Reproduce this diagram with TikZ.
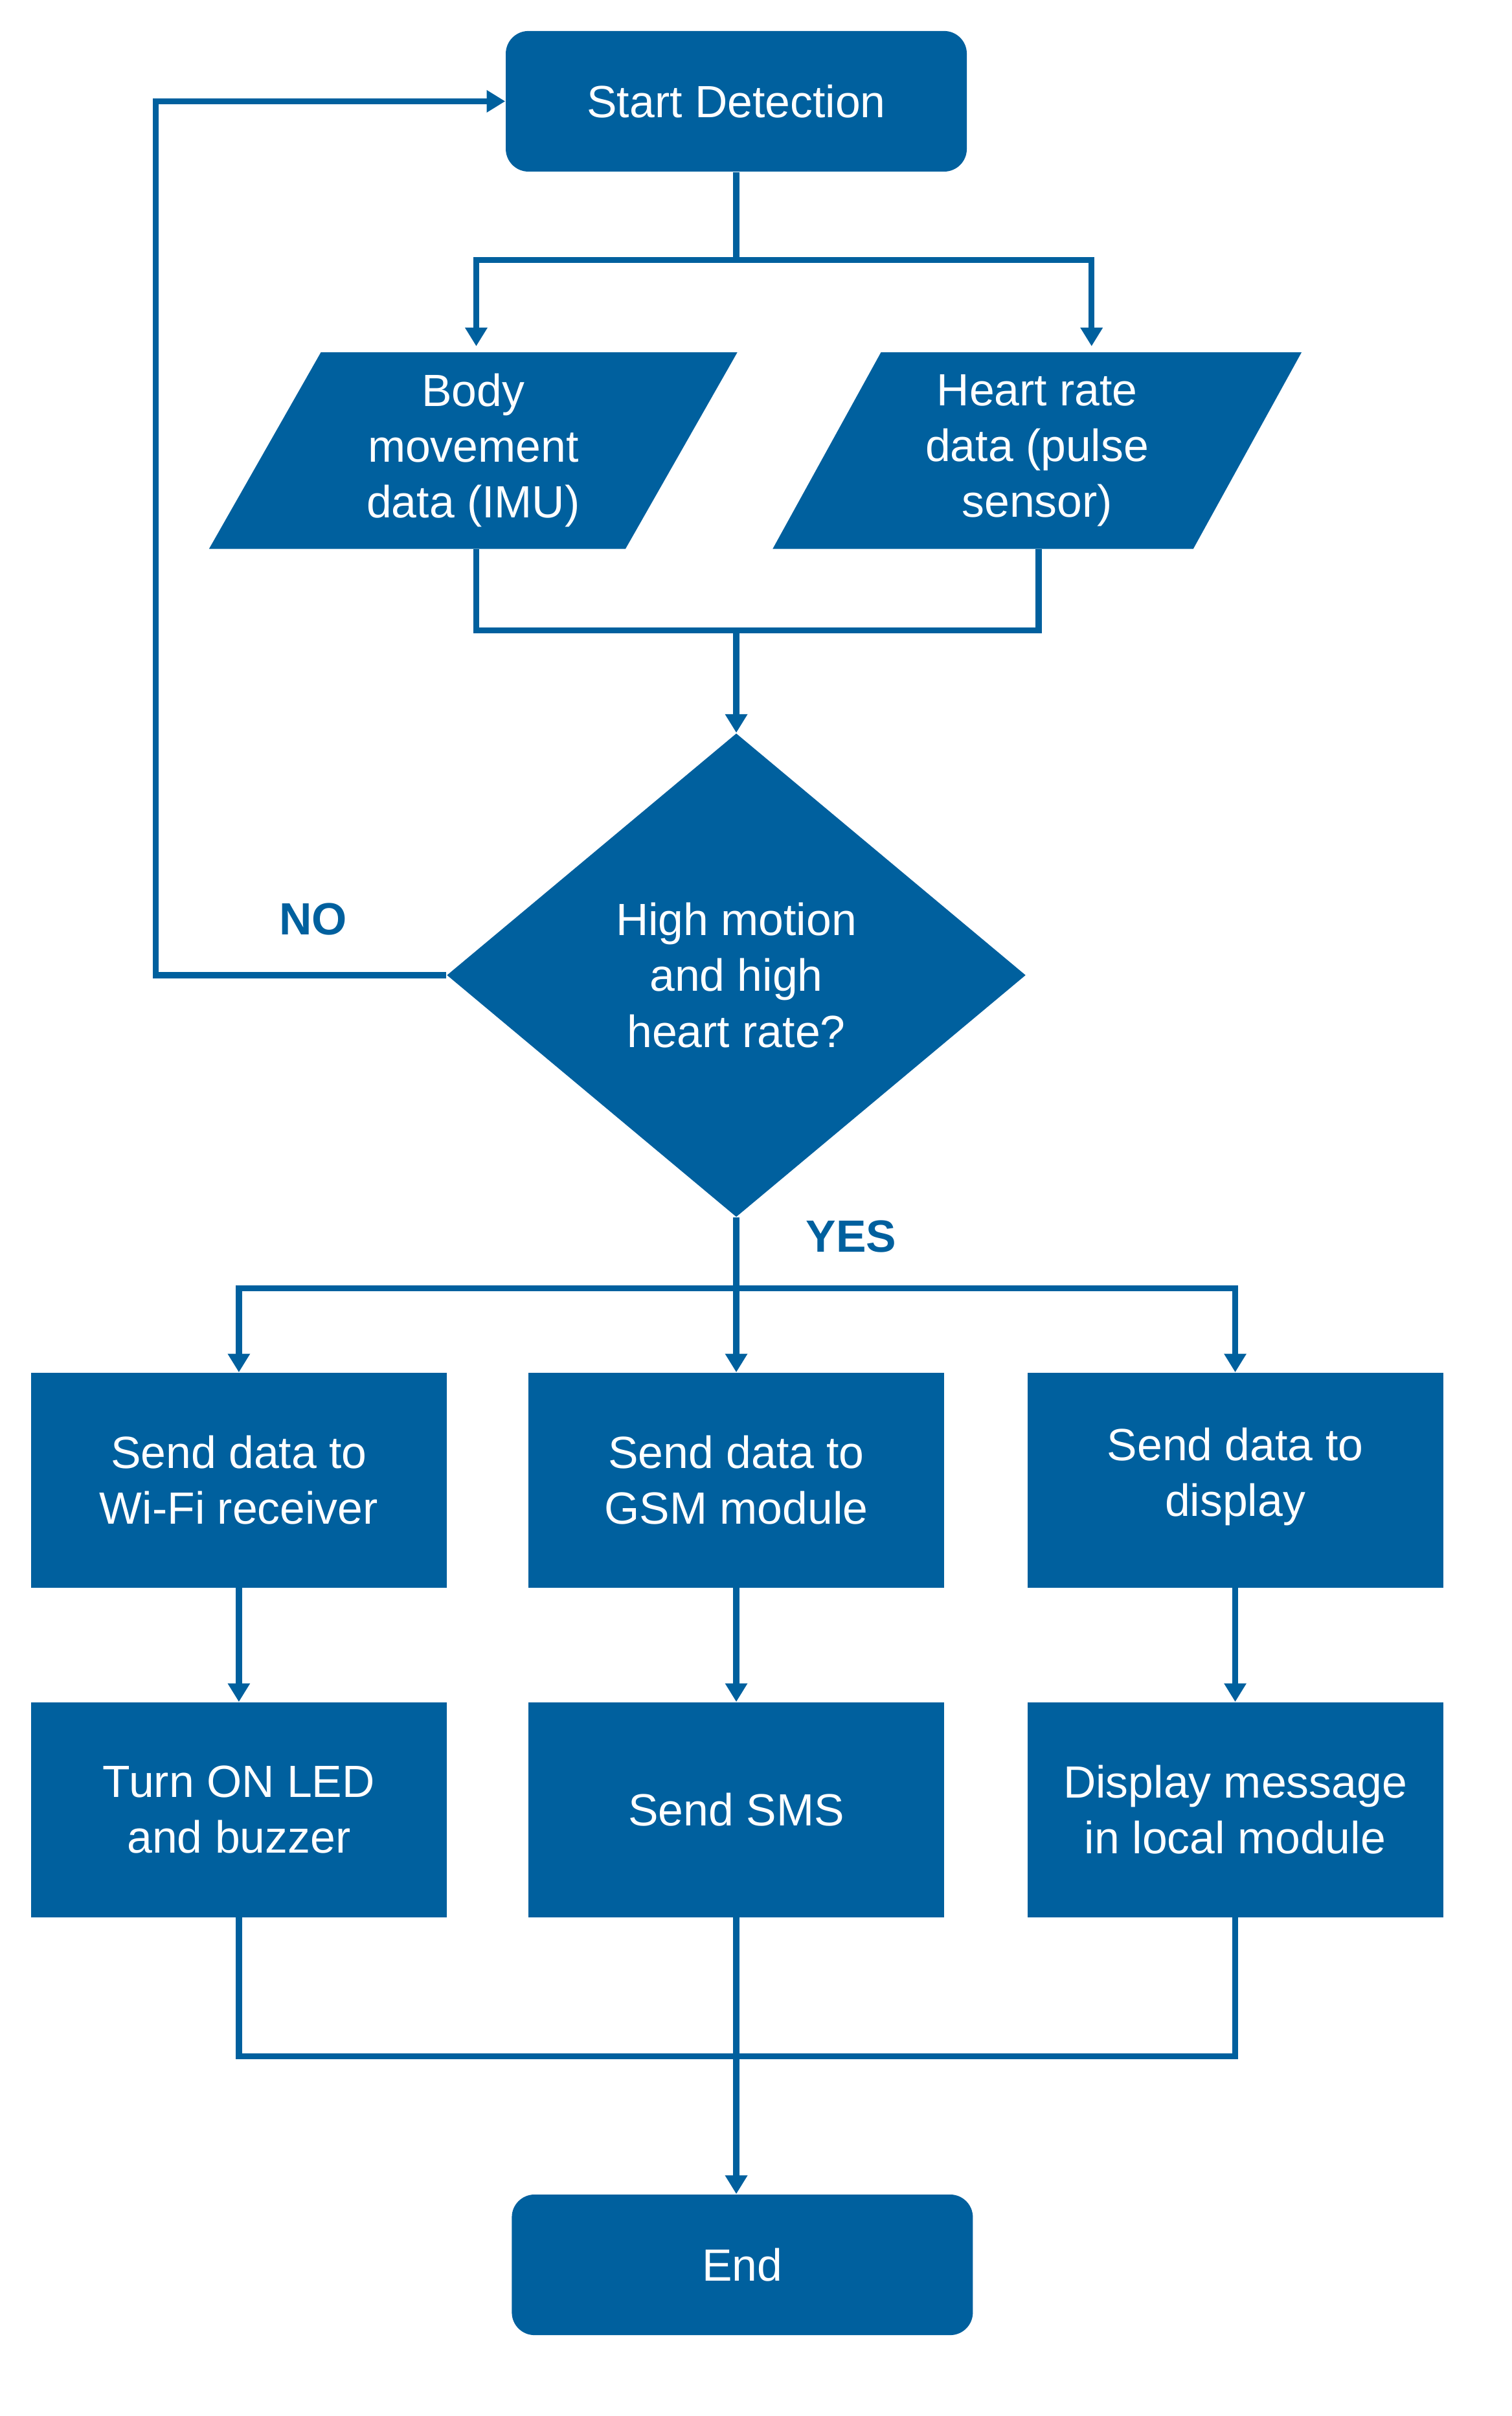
\documentclass[tikz,border=0pt]{standalone}
\usepackage{fontspec}
\setmainfont{Liberation Sans}
\usetikzlibrary{shapes.geometric,arrows.meta}
\definecolor{fb}{RGB}{0,96,158}
\begin{document}
\begin{tikzpicture}[x=0.02cm,y=-0.02cm,
  base/.style={fill=fb,text=white,font=\fontsize{17}{21}\selectfont,align=center,inner sep=0pt},
  term/.style={base,rounded corners=0.3cm,minimum width=6.1cm,minimum height=1.86cm},
  box/.style={base,minimum width=5.5cm,minimum height=2.84cm},
  para/.style={base,trapezium,trapezium left angle=63,trapezium right angle=117,trapezium stretches=true,minimum width=7cm,minimum height=2.6cm},
  dec/.style={base,diamond,minimum width=7.66cm,minimum height=6.4cm,aspect=1.2},
  ln/.style={draw=fb,line width=2.3pt},
  ar/.style={ln,-{Triangle[length=7pt,width=8pt]}},
  lab/.style={text=fb,font=\bfseries\fontsize{17}{21}\selectfont}]
\useasboundingbox (0,0) rectangle (1000,1598);
\node[term] (start) at (487,67) {Start Detection};
\node[para] (body) at (313,298) {Body\\movement\\data (IMU)};
\node[para] (heart) at (686,298) {Heart rate\\data (pulse\\sensor)};
\node[dec] (dec) at (487,645) {High motion\\and high\\heart rate?};
\node[box] (b1) at (158,979) {Send data to\\Wi-Fi receiver};
\node[box] (b2) at (487,979) {Send data to\\GSM module};
\node[box] (b3) at (817,979) {Send data to\\display\strut};
\node[box] (c1) at (158,1197) {Turn ON LED\\and buzzer};
\node[box] (c2) at (487,1197) {Send SMS};
\node[box] (c3) at (817,1197) {Display message\\in local module};
\node[term] (end) at (491,1498) {End};
\coordinate (s1) at (487,172);
\coordinate (m1) at (487,417);
\coordinate (y1) at (487,852);
\coordinate (e1) at (487,1360);
\coordinate (n1) at (103,645);
\node[lab] (no) at (207,608) {NO};
\node[lab] (yes) at (563,818) {YES};
\draw[ln] (start.south) -- (s1);
\draw[ar] (s1) -| (315,229);
\draw[ar] (s1) -| (722,229);
\draw[ln] (315,363) |- (m1);
\draw[ln] (687,363) |- (m1);
\draw[ar] (m1) -- (dec.north);
\draw[ar] (dec.west) -- (n1) |- (start.west);
\draw[ln] (dec.south) -- (y1);
\draw[ar] (y1) -- (b2.north);
\draw[ar] (y1) -| (b1.north);
\draw[ar] (y1) -| (b3.north);
\draw[ar] (b1.south) -- (c1.north);
\draw[ar] (b2.south) -- (c2.north);
\draw[ar] (b3.south) -- (c3.north);
\draw[ln] (c1.south) |- (e1);
\draw[ln] (c3.south) |- (e1);
\draw[ar] (c2.south) -- (end.north -| c2.south);
\end{tikzpicture}
\end{document}
